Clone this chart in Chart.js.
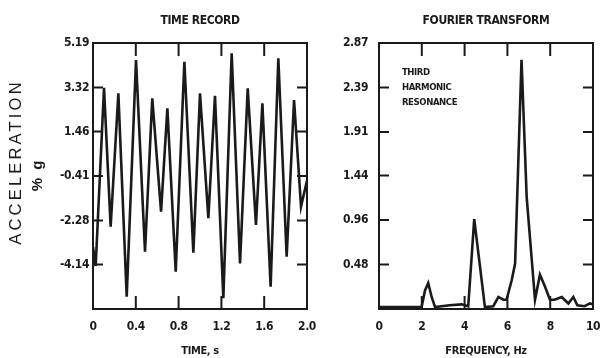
<!DOCTYPE html>
<html>
<head>
<meta charset="utf-8">
<script src="https://cdn.jsdelivr.net/npm/chart.js@4/dist/chart.umd.min.js"></script>
<style>
  html, body { margin: 0; padding: 0; background: #fff; }
  #wrap { position: relative; width: 601px; height: 358px; }
  .box { position: absolute; top: 0; height: 358px; }
  #leftBox { left: 0; width: 320px; }
  #rightBox { left: 320px; width: 281px; }
</style>
</head>
<body>
<div id="wrap">
  <div class="box" id="leftBox"><canvas id="timeChart" width="320" height="358"></canvas></div>
  <div class="box" id="rightBox"><canvas id="fftChart" width="281" height="358"></canvas></div>
</div>
<script>
"use strict";

// time record: peaks and troughs
const timeS = [0, 0.025, 0.103, 0.165, 0.237, 0.315, 0.402, 0.486, 0.554, 0.636, 0.695, 0.773, 0.854, 0.938, 1.0,
    1.078, 1.140, 1.218, 1.296, 1.374, 1.446, 1.523, 1.583, 1.660, 1.732, 1.810, 1.879, 1.944, 2.0];
const accel = [-3.4, -4.2, 3.3, -2.54, 3.07, -5.49, 4.47, -3.60, 2.86, -1.91, 2.44, -4.44, 4.40, -3.64, 3.07,
    -2.19, 2.97, -5.56, 4.76, -4.09, 3.28, -2.47, 2.65, -5.07, 4.55, -3.81, 2.79, -1.70, -0.6];
const timeXTicks = [0, 0.4, 0.8, 1.2, 1.6, 2.0];
const timeXLabels = ['0', '0.4', '0.8', '1.2', '1.6', '2.0'];
const timeYTicks = [-6.01, -4.14, -2.28, -0.41, 1.46, 3.32, 5.19];
const timeYLabels = ['', '-4.14', '-2.28', '-0.41', '1.46', '3.32', '5.19'];

// fourier transform
const freqHz = [0, 1.0, 1.99, 2.15, 2.30, 2.46, 2.62, 3.3, 3.86, 4.17, 4.45, 4.95, 5.34, 5.58, 5.81, 5.96, 6.2,
    6.36, 6.66, 6.90, 7.29, 7.52, 7.76, 7.99, 8.2, 8.54, 8.85, 9.08, 9.27, 9.6, 9.86, 10];
const amplitude = [0.02, 0.02, 0.02, 0.20, 0.28, 0.13, 0.02, 0.04, 0.05, 0.03, 0.97, 0.02, 0.03, 0.13, 0.10, 0.10, 0.31,
    0.49, 2.69, 1.21, 0.10, 0.37, 0.24, 0.10, 0.10, 0.13, 0.06, 0.13, 0.04, 0.03, 0.06, 0.05];
const freqXTicks = [0, 2, 4, 6, 8, 10];
const freqYTicks = [0, 0.48, 0.96, 1.44, 1.91, 2.39, 2.87];
const freqYLabels = ['', '0.48', '0.96', '1.44', '1.91', '2.39', '2.87'];
const noteLines = ['THIRD', 'HARMONIC', 'RESONANCE'];

const ink = '#1a1a1a';
const narrow = "'Liberation Sans Narrow', 'DejaVu Sans Condensed', sans-serif";

// the scanned lettering is tighter than any installed font
const tightText = {
    id: 'tightText',
    beforeUpdate(chart) { chart.ctx.letterSpacing = '-0.4px'; },
    beforeDraw(chart) { chart.ctx.letterSpacing = '-0.4px'; }
};

// box frame with inward tick marks on all four sides
const frameTicks = {
    id: 'frameTicks',
    afterDatasetsDraw(chart) {
        const { ctx, chartArea: a, scales: { x, y } } = chart;
        ctx.save();
        ctx.strokeStyle = ink;
        ctx.lineWidth = 2;
        ctx.strokeRect(a.left, a.top, a.right - a.left, a.bottom - a.top);
        ctx.beginPath();
        x.ticks.forEach(t => {
            const px = x.getPixelForValue(t.value);
            if (px <= a.left + 2 || px >= a.right - 2) return;
            ctx.moveTo(px, a.top); ctx.lineTo(px, a.top + 13);
            ctx.moveTo(px, a.bottom); ctx.lineTo(px, a.bottom - 13);
        });
        y.ticks.forEach(t => {
            const py = y.getPixelForValue(t.value);
            if (py <= a.top + 2 || py >= a.bottom - 2) return;
            ctx.moveTo(a.left, py); ctx.lineTo(a.left + 10, py);
            ctx.moveTo(a.right, py); ctx.lineTo(a.right - 10, py);
        });
        ctx.stroke();
        ctx.restore();
    }
};

const accelTitle = {
    id: 'accelTitle',
    afterDraw(chart) {
        const { ctx, chartArea: a } = chart;
        const mid = (a.top + a.bottom) / 2;
        ctx.save();
        ctx.fillStyle = ink;
        ctx.textAlign = 'center';
        ctx.textBaseline = 'middle';
        ctx.translate(16, mid - 14);
        ctx.rotate(-Math.PI / 2);
        ctx.letterSpacing = '3.2px';
        ctx.font = "16.5px 'Liberation Sans', Arial, sans-serif";
        ctx.fillText('ACCELERATION', 0, 0);
        ctx.restore();
        ctx.save();
        ctx.fillStyle = ink;
        ctx.textAlign = 'center';
        ctx.textBaseline = 'middle';
        ctx.translate(38, mid - 1);
        ctx.rotate(-Math.PI / 2);
        ctx.letterSpacing = '2px';
        ctx.font = "bold 15px 'Liberation Sans', Arial, sans-serif";
        ctx.fillText('% g', 0, 0);
        ctx.restore();
    }
};

const resonanceNote = {
    id: 'resonanceNote',
    afterDraw(chart) {
        const { ctx, scales: { x, y } } = chart;
        ctx.save();
        ctx.fillStyle = ink;
        ctx.font = 'bold 9.5px ' + narrow;
        ctx.textAlign = 'left';
        ctx.textBaseline = 'middle';
        const px = x.getPixelForValue(1.07);
        const py = y.getPixelForValue(2.55);
        noteLines.forEach((s, i) => ctx.fillText(s, px, py + i * 15));
        ctx.restore();
    }
};

function makeChart(id, opts) {
    const ctx = document.getElementById(id).getContext('2d');
    return new Chart(ctx, {
        type: 'line',
        data: {
            datasets: [{
                data: opts.xs.map((v, i) => ({ x: v, y: opts.ys[i] })),
                borderColor: ink,
                borderWidth: 2.6,
                pointRadius: 0,
                tension: 0,
                fill: false
            }]
        },
        options: {
            responsive: false,
            animation: false,
            layout: { padding: { left: 0, right: opts.padRight, top: 0, bottom: 0 } },
            plugins: {
                legend: { display: false },
                tooltip: { enabled: false },
                title: {
                    display: true,
                    fullSize: false,
                    text: opts.title,
                    color: ink,
                    font: { family: narrow, size: 12, weight: 'bold' },
                    padding: { top: 14, bottom: 14.6 }
                }
            },
            scales: {
                x: {
                    type: 'linear',
                    min: opts.xTicks[0],
                    max: opts.xTicks[opts.xTicks.length - 1],
                    afterFit: s => { s.height = 49; s.paddingLeft = 0; s.paddingRight = 0; },
                    afterBuildTicks: s => { s.ticks = opts.xTicks.map(v => ({ value: v })); },
                    grid: { display: false, drawTicks: false },
                    border: { display: false },
                    ticks: {
                        color: ink,
                        padding: 11,
                        maxRotation: 0,
                        autoSkip: false,
                        font: { family: narrow, size: 12, weight: 'bold' },
                        callback: opts.xLabel
                    },
                    title: {
                        display: true,
                        text: opts.xTitle,
                        color: ink,
                        font: { family: narrow, size: 11, weight: 'bold' },
                        padding: { top: 0, bottom: 0 }
                    }
                },
                y: {
                    type: 'linear',
                    min: opts.yTicks[0],
                    max: opts.yTicks[opts.yTicks.length - 1],
                    afterFit: s => { s.width = opts.yWidth; s.paddingTop = 0; s.paddingBottom = 0; },
                    afterBuildTicks: s => { s.ticks = opts.yTicks.map(v => ({ value: v })); },
                    grid: { display: false, drawTicks: false },
                    border: { display: false },
                    ticks: {
                        color: ink,
                        padding: opts.yPad,
                        autoSkip: false,
                        font: { family: narrow, size: 12, weight: 'bold' },
                        callback: (v, i) => opts.yLabels[i]
                    }
                }
            }
        },
        plugins: [tightText, frameTicks].concat(opts.extra)
    });
}

window.onload = function () {
    window.timeChart = makeChart('timeChart', {
        xs: timeS, ys: accel,
        xTicks: timeXTicks, xLabel: (v, i) => timeXLabels[i],
        yTicks: timeYTicks, yLabels: timeYLabels,
        title: 'TIME RECORD', xTitle: 'TIME, s',
        yWidth: 93, yPad: 4, padRight: 13,
        extra: [accelTitle]
    });
    window.fftChart = makeChart('fftChart', {
        xs: freqHz, ys: amplitude,
        xTicks: freqXTicks, xLabel: v => String(v),
        yTicks: freqYTicks, yLabels: freqYLabels,
        title: 'FOURIER TRANSFORM', xTitle: 'FREQUENCY, Hz',
        yWidth: 59, yPad: 11, padRight: 8,
        extra: [resonanceNote]
    });
};
</script>
</body>
</html>
